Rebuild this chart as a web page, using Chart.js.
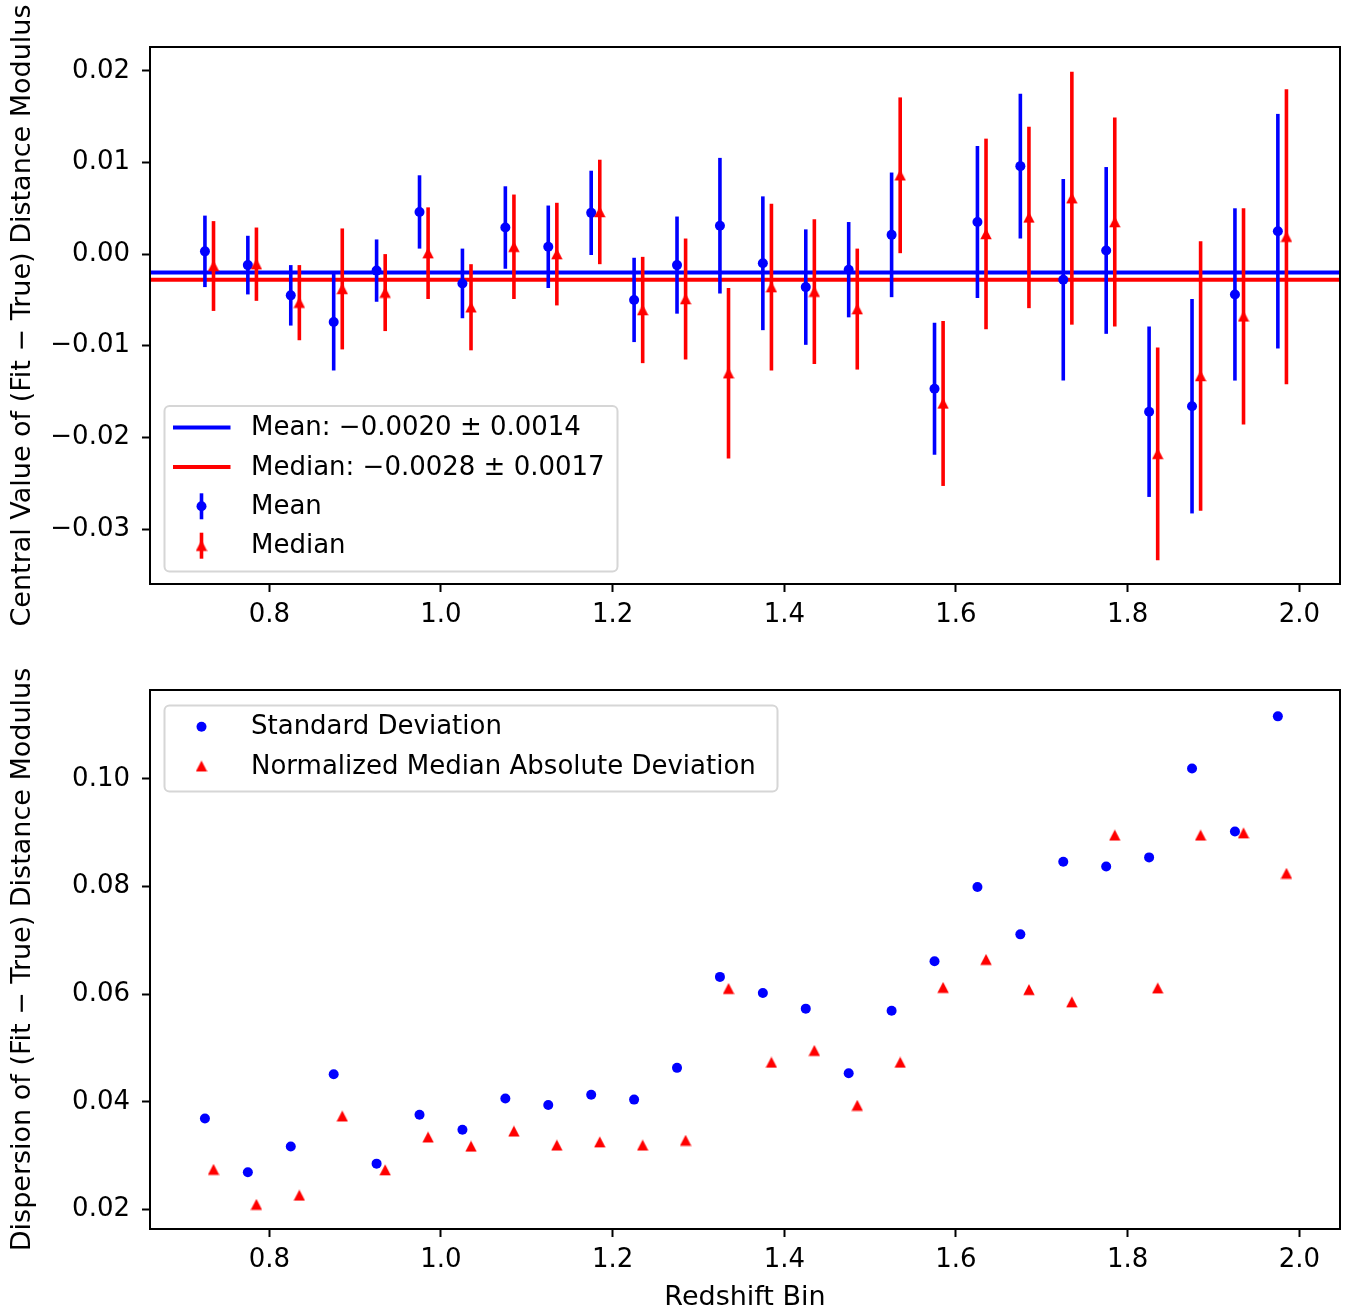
<!DOCTYPE html>
<html>
<head>
<meta charset="utf-8">
<script src="https://cdn.jsdelivr.net/npm/chart.js@4.4.1/dist/chart.umd.min.js"></script>
<style>
  body { margin: 0; background: #fff; }
  #wrap { position: relative; width: 1348px; height: 1312px; }
  canvas { position: absolute; left: 0; }
  #topChart { top: 0; }
  #bottomChart { top: 645px; }
</style>
</head>
<body>
<div id="wrap">
  <canvas id="topChart" width="1348" height="645"></canvas>
  <canvas id="bottomChart" width="1348" height="667"></canvas>
</div>
<script>
// Redshift bins (mean / std at bin centre, median / NMAD drawn slightly to the right)
const binX = [0.725, 0.775, 0.825, 0.875, 0.925, 0.975, 1.025, 1.075, 1.125, 1.175, 1.225, 1.275, 1.325,
  1.375, 1.425, 1.475, 1.525, 1.575, 1.625, 1.675, 1.725, 1.775, 1.825, 1.875, 1.925, 1.975];
const binXShifted = [0.735, 0.785, 0.835, 0.885, 0.935, 0.985, 1.035, 1.085, 1.135, 1.185, 1.235, 1.285, 1.335,
  1.385, 1.435, 1.485, 1.535, 1.585, 1.635, 1.685, 1.735, 1.785, 1.835, 1.885, 1.935, 1.985];

// top panel: central values with errors
const meanCentral = [0.0003, -0.0012, -0.0045, -0.0074, -0.0018, 0.0046, -0.0032, 0.0029, 0.0008, 0.0045, -0.0050, -0.0012, 0.0031,
  -0.0010, -0.0036, -0.0017, 0.0021, -0.0147, 0.0035, 0.0096, -0.0028, 0.0004, -0.0172, -0.0166, -0.0044, 0.0025];
const meanErr = [0.0039, 0.0032, 0.0033, 0.0053, 0.0034, 0.0040, 0.0038, 0.0045, 0.0045, 0.0046, 0.0046, 0.0053, 0.0074,
  0.0073, 0.0063, 0.0052, 0.0068, 0.0072, 0.0083, 0.0079, 0.0110, 0.0091, 0.0093, 0.0117, 0.0094, 0.0128];
const medianCentral = [-0.0013, -0.0011, -0.0053, -0.0038, -0.0042, 0.0001, -0.0058, 0.0008, 0.0000, 0.0046, -0.0061, -0.0049, -0.0130,
  -0.0036, -0.0041, -0.0060, 0.0086, -0.0163, 0.0022, 0.0040, 0.0061, 0.0035, -0.0218, -0.0133, -0.0068, 0.0019];
const medianErr = [0.0049, 0.0040, 0.0041, 0.0066, 0.0042, 0.0050, 0.0047, 0.0057, 0.0056, 0.0057, 0.0058, 0.0066, 0.0093,
  0.0091, 0.0079, 0.0066, 0.0085, 0.0090, 0.0104, 0.0099, 0.0138, 0.0114, 0.0116, 0.0147, 0.0118, 0.0161];
const meanOverall = -0.0020;
const medianOverall = -0.0028;

// bottom panel: dispersions
const stdDev = [0.0369, 0.0269, 0.0317, 0.0451, 0.0285, 0.0376, 0.0348, 0.0406, 0.0394, 0.0413, 0.0404, 0.0463, 0.0632,
  0.0602, 0.0573, 0.0453, 0.0569, 0.0661, 0.0799, 0.0711, 0.0846, 0.0837, 0.0854, 0.1019, 0.0902, 0.1116];
const nmad = [0.0274, 0.0209, 0.0226, 0.0373, 0.0273, 0.0334, 0.0317, 0.0345, 0.0319, 0.0325, 0.0319, 0.0328, 0.0610,
  0.0473, 0.0495, 0.0393, 0.0473, 0.0612, 0.0664, 0.0608, 0.0585, 0.0895, 0.0611, 0.0895, 0.0899, 0.0824];

// ticks
const xTicks = [0.8, 1.0, 1.2, 1.4, 1.6, 1.8, 2.0];
const topYTicks = [-0.03, -0.02, -0.01, 0.00, 0.01, 0.02];
const bottomYTicks = [0.02, 0.04, 0.06, 0.08, 0.10];

const FONT = '"DejaVu Sans", Verdana, sans-serif';
const BLUE = '#0000ff';
const RED = '#ff0000';

// matplotlib style '^' marker (bbox centred on the point)
function makeTriangle(size) {
  const c = document.createElement('canvas');
  c.width = size; c.height = size;
  const g = c.getContext('2d');
  g.fillStyle = RED;
  g.beginPath();
  g.moveTo(size / 2, 0.3);
  g.lineTo(size - 0.3, size - 0.8);
  g.lineTo(0.3, size - 0.8);
  g.closePath();
  g.fill();
  return c;
}
const triMarker = makeTriangle(12);

function pts(xs, ys) {
  return xs.map((x, i) => ({ x: x, y: ys[i] }));
}

function fmtMinus(v, d) {
  return v.toFixed(d).replace('-', '\u2212');
}

function drawLegend(ctx, lg) {
  ctx.save();
  ctx.fillStyle = 'rgba(255,255,255,0.8)';
  ctx.strokeStyle = '#d6d6d6';
  ctx.lineWidth = 2;
  ctx.beginPath();
  ctx.roundRect(lg.x, lg.y, lg.w, lg.h, 5);
  ctx.fill();
  ctx.stroke();
  ctx.font = '26px ' + FONT;
  ctx.textBaseline = 'middle';
  ctx.textAlign = 'left';
  lg.rows.forEach((r, i) => {
    const cy = lg.firstRow + i * lg.step;
    const hx = lg.x + 37;
    if (r.kind === 'line') {
      ctx.strokeStyle = r.color;
      ctx.lineWidth = 4;
      ctx.beginPath();
      ctx.moveTo(lg.x + 8.5, cy);
      ctx.lineTo(lg.x + 66, cy);
      ctx.stroke();
    }
    if (r.kind === 'errbar') {
      ctx.strokeStyle = r.color;
      ctx.lineWidth = 3.6;
      ctx.beginPath();
      ctx.moveTo(hx, cy - 13);
      ctx.lineTo(hx, cy + 13);
      ctx.stroke();
    }
    if (r.marker === 'circle') {
      ctx.fillStyle = r.color;
      ctx.beginPath();
      ctx.arc(hx, cy, 5, 0, Math.PI * 2);
      ctx.fill();
    } else if (r.marker === 'triangle') {
      ctx.drawImage(triMarker, hx - 6, cy - 6);
    }
    ctx.fillStyle = '#000';
    ctx.fillText(r.label, lg.x + 86.5, cy + 1);
  });
  ctx.restore();
}

const mplDecor = {
  id: 'mplDecor',
  beforeDatasetsDraw(chart, args, opts) {
    const { ctx, chartArea: a } = chart;
    const y = chart.scales.y;
    (opts.hlines || []).forEach(h => {
      const py = y.getPixelForValue(h.value);
      ctx.save();
      ctx.strokeStyle = h.color;
      ctx.lineWidth = 4;
      ctx.beginPath();
      ctx.moveTo(a.left, py);
      ctx.lineTo(a.right, py);
      ctx.stroke();
      ctx.restore();
    });
  },
  beforeDatasetDraw(chart, args) {
    const ds = chart.data.datasets[args.index];
    if (!ds.errors) return;
    const { ctx } = chart;
    const x = chart.scales.x, y = chart.scales.y;
    ctx.save();
    ctx.strokeStyle = ds.backgroundColor;
    ctx.lineWidth = 3.6;
    ds.data.forEach((p, i) => {
      const px = x.getPixelForValue(p.x);
      ctx.beginPath();
      ctx.moveTo(px, y.getPixelForValue(p.y - ds.errors[i]));
      ctx.lineTo(px, y.getPixelForValue(p.y + ds.errors[i]));
      ctx.stroke();
    });
    ctx.restore();
  },
  afterDraw(chart, args, opts) {
    const { ctx, chartArea: a } = chart;
    // full axes frame
    ctx.save();
    ctx.strokeStyle = '#000';
    ctx.lineWidth = 2;
    ctx.strokeRect(a.left, a.top, a.right - a.left, a.bottom - a.top);
    ctx.restore();
    // axis titles
    ctx.save();
    ctx.fillStyle = '#000';
    ctx.font = '27px ' + FONT;
    ctx.textAlign = 'center';
    ctx.textBaseline = 'middle';
    if (opts.xTitle) {
      ctx.fillText(opts.xTitle, (a.left + a.right) / 2, opts.xTitleY);
    }
    ctx.translate(23, (a.top + a.bottom) / 2);
    ctx.rotate(-Math.PI / 2);
    ctx.fillText(opts.yTitle, 0, 0);
    ctx.restore();
    if (opts.legend) drawLegend(ctx, opts.legend);
  }
};

function axes(yMin, yMax, yTicks, yDigits, xHeight) {
  const tickFont = { family: FONT, size: 26 };
  const grid = { display: true, drawOnChartArea: false, drawTicks: true, tickLength: 8, tickWidth: 2, tickColor: '#000' };
  return {
    x: {
      type: 'linear', min: 0.661, max: 2.0474,
      grid: grid,
      border: { display: true, color: '#000', width: 2 },
      ticks: { color: '#000', font: tickFont, padding: 7.5, maxRotation: 0, callback: v => v.toFixed(1) },
      afterBuildTicks: s => { s.ticks = xTicks.map(v => ({ value: v })); },
      afterFit: s => { s.height = xHeight; }
    },
    y: {
      type: 'linear', min: yMin, max: yMax,
      grid: grid,
      border: { display: true, color: '#000', width: 2 },
      ticks: { color: '#000', font: tickFont, padding: 12, callback: v => fmtMinus(v, yDigits) },
      afterBuildTicks: s => { s.ticks = yTicks.map(v => ({ value: v })); },
      afterFit: s => { s.width = 150; }
    }
  };
}

Chart.register(mplDecor);

new Chart(document.getElementById('topChart'), {
  type: 'scatter',
  data: {
    datasets: [
      {
        label: 'Mean', data: pts(binX, meanCentral), errors: meanErr, order: 2,
        backgroundColor: BLUE, borderColor: BLUE, pointStyle: 'circle', pointRadius: 5, borderWidth: 0
      },
      {
        label: 'Median', data: pts(binXShifted, medianCentral), errors: medianErr, order: 1,
        backgroundColor: RED, borderColor: RED, pointStyle: triMarker, pointRadius: 6, borderWidth: 0
      }
    ]
  },
  options: {
    responsive: false,
    animation: false,
    layout: { padding: { top: 47, right: 8, bottom: 0, left: 0 } },
    scales: axes(-0.0360, 0.0226, topYTicks, 2, 61),
    plugins: {
      legend: { display: false },
      tooltip: { enabled: false },
      mplDecor: {
        yTitle: 'Central Value of (Fit \u2212 True) Distance Modulus',
        hlines: [
          { value: meanOverall, color: BLUE },
          { value: medianOverall, color: RED }
        ],
        legend: {
          x: 164.5, y: 406, w: 453, h: 165.5, firstRow: 427.5, step: 39.4,
          rows: [
            { kind: 'line', color: BLUE, label: 'Mean: \u22120.0020 \u00b1 0.0014' },
            { kind: 'line', color: RED, label: 'Median: \u22120.0028 \u00b1 0.0017' },
            { kind: 'errbar', color: BLUE, marker: 'circle', label: 'Mean' },
            { kind: 'errbar', color: RED, marker: 'triangle', label: 'Median' }
          ]
        }
      }
    }
  }
});

new Chart(document.getElementById('bottomChart'), {
  type: 'scatter',
  data: {
    datasets: [
      {
        label: 'Standard Deviation', data: pts(binX, stdDev), order: 2,
        backgroundColor: BLUE, borderColor: BLUE, pointStyle: 'circle', pointRadius: 5, borderWidth: 0
      },
      {
        label: 'Normalized Median Absolute Deviation', data: pts(binXShifted, nmad), order: 1,
        backgroundColor: RED, borderColor: RED, pointStyle: triMarker, pointRadius: 6, borderWidth: 0
      }
    ]
  },
  options: {
    responsive: false,
    animation: false,
    layout: { padding: { top: 45, right: 8, bottom: 0, left: 0 } },
    scales: axes(0.01636, 0.1165, bottomYTicks, 2, 83),
    plugins: {
      legend: { display: false },
      tooltip: { enabled: false },
      mplDecor: {
        yTitle: 'Dispersion of (Fit \u2212 True) Distance Modulus',
        xTitle: 'Redshift Bin',
        xTitleY: 653,
        legend: {
          x: 164.5, y: 60.5, w: 613, h: 86, firstRow: 81.7, step: 39.6,
          rows: [
            { kind: 'marker', color: BLUE, marker: 'circle', label: 'Standard Deviation' },
            { kind: 'marker', color: RED, marker: 'triangle', label: 'Normalized Median Absolute Deviation' }
          ]
        }
      }
    }
  }
});
</script>
</body>
</html>
